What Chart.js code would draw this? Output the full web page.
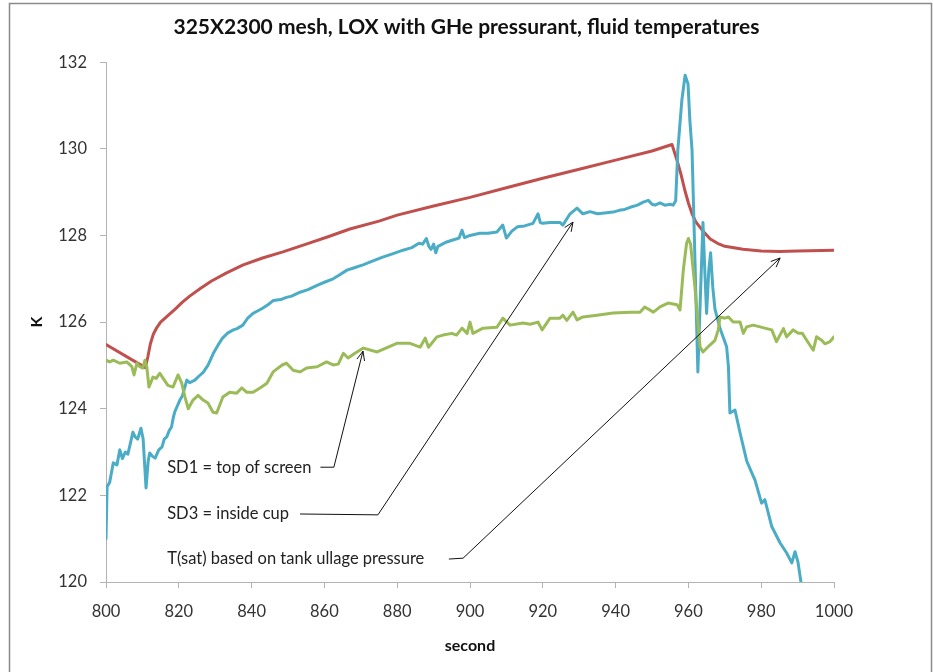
<!DOCTYPE html>
<html>
<head>
<meta charset="utf-8">
<script src="https://cdn.jsdelivr.net/npm/chart.js@4.4.0/dist/chart.umd.min.js"></script>
<style>
  html, body { margin: 0; padding: 0; background: #fff; }
</style>
</head>
<body>
<canvas id="chart" width="933" height="672"></canvas>
<script>
// T(sat) based on tank ullage pressure
const tsatX = [800, 810.8, 811.5, 812.2, 813, 814, 815, 817, 819, 821, 823, 826, 829, 833, 837.7, 843, 848.6, 855, 861, 867, 875, 880, 890, 900, 910, 920, 930, 940, 950, 955.5,
  957, 958, 959, 960, 961, 962, 964, 966, 968, 970, 975, 980, 985, 990, 1000];
const tsatY = [125.48, 124.95, 125.2, 125.5, 125.72, 125.88, 126.0, 126.15, 126.3, 126.46, 126.6, 126.78, 126.95, 127.13, 127.32, 127.48, 127.62, 127.8, 127.97, 128.15, 128.33, 128.47, 128.68, 128.88, 129.1, 129.32, 129.53, 129.74, 129.95, 130.1,
  129.7, 129.4, 129.05, 128.75, 128.5, 128.32, 128.1, 127.92, 127.82, 127.75, 127.68, 127.64, 127.63, 127.64, 127.66];

// SD3 = inside cup
const sd3X = [800, 800.3, 801, 802, 803, 803.8, 804.5, 805.3, 806, 806.7, 807.4, 808, 808.7, 809.6, 810.2, 811, 811.6, 812, 812.8, 813.5, 814.5, 815.4, 816, 816.7, 817.4, 818, 818.5, 818.9,
  820.3, 821, 822.2, 823, 824.4, 825.5, 826.7, 828, 829.5, 831, 832, 833.5, 835, 836, 837.6, 839, 840.4, 841.5, 843, 844.5, 846, 848, 849.6, 851, 853.3, 855.5, 858, 860, 862.4, 864, 866.2, 868,
  870.6, 873, 876, 878.5, 881.6, 884, 886, 887, 888, 888.7, 889.3, 890, 890.6, 891.2, 893.6, 895.5, 897, 897.8, 898.5, 900, 902.7, 905, 907.4, 909, 910, 911.5, 913, 915, 917.3, 918.7, 919.3,
  920, 922, 924.7, 925.5, 927.5, 929.4, 931, 933, 935, 937, 939.3, 941, 942.5, 944, 946, 947.6, 949, 950, 950.8, 952.2, 953.5, 955, 955.8, 956.5, 957.1, 958.2, 959.1, 959.9, 960.4, 961, 961.5,
  962.6, 963.3, 964, 964.5, 965, 965.6, 966.1, 966.7, 967.3, 968.7, 970.5, 971, 971.4, 972.8, 974.2, 976, 977, 978.3, 980.1, 981, 982.9, 985.2, 987, 988.4, 989.3, 990.1, 991.1, 992];
const sd3Y = [121.0, 122.2, 122.3, 122.75, 122.7, 123.05, 122.85, 123.0, 122.95, 123.2, 123.46, 123.35, 123.3, 123.55, 123.3, 122.17, 122.8, 122.98, 122.9, 122.86, 123.05, 123.12, 123.3, 123.35, 123.5, 123.58, 123.8, 123.93,
  124.2, 124.3, 124.66, 124.6, 124.66, 124.75, 124.84, 125.0, 125.28, 125.5, 125.63, 125.75, 125.82, 125.85, 125.93, 126.1, 126.2, 126.25, 126.32, 126.4, 126.5, 126.52, 126.57, 126.6, 126.69, 126.75, 126.85, 126.92, 127.0, 127.08, 127.2, 127.25,
  127.32, 127.4, 127.5, 127.57, 127.66, 127.72, 127.82, 127.8, 127.93, 127.75, 127.68, 127.8, 127.6, 127.75, 127.85, 127.9, 127.94, 128.12, 127.95, 128.0, 128.05, 128.05, 128.08, 128.24, 127.94, 128.1, 128.2, 128.22, 128.28, 128.5, 128.3,
  128.28, 128.3, 128.3, 128.24, 128.5, 128.63, 128.5, 128.55, 128.5, 128.52, 128.54, 128.58, 128.6, 128.65, 128.7, 128.77, 128.81, 128.72, 128.7, 128.75, 128.7, 128.72, 128.7, 128.8, 129.97, 131.12, 131.7, 131.5, 130.66, 129.97, 128.4,
  124.85, 126.6, 128.3, 127.2, 126.2, 127.2, 127.6, 126.8, 126.3, 125.85, 125.43, 124.97, 123.9, 123.97, 123.44, 122.8, 122.6, 122.35, 121.82, 121.9, 121.28, 120.9, 120.67, 120.44, 120.7, 120.46, 119.9, 119.5];

// SD1 = top of screen
const sd1X = [800, 801, 802, 803.8, 805.7, 807.1, 807.7, 808.5, 809.3, 810.1, 810.7, 811.2, 811.8, 812.9, 813.8, 814.8, 815.7, 817, 818.4, 819.8, 820.8, 821.7, 822.6, 823.9, 825.3, 826.7, 828, 829.4, 830.4,
  832.1, 834, 835.9, 837.3, 838.7, 840.4, 842.3, 844.2, 845.9, 848.4, 849.6, 851.4, 853.3, 855.1, 858, 860.6, 862.4, 863.8, 865.2, 866.5, 868.4, 870.7, 874.5, 879.9, 883.5, 886.3, 887.7, 888.6,
  890.9, 892.6, 895, 896.3, 897.8, 899.2, 900, 900.8, 903.6, 907.4, 909, 911, 914.6, 916.5, 918.7, 919.8, 922, 924.7, 925.5, 926.6, 928.3, 929.4, 931, 934.9, 939.3, 944, 946.7, 948, 950.4, 952.2,
  954.4, 956.9, 957.7, 958.6, 959.5, 960, 960.6, 961.8, 963.2, 964, 965.9, 967.3, 968.2, 968.7, 970, 971, 972.3, 974.2, 975.1, 976, 977.8, 979.7, 981.5, 982.9, 984.2, 986.1, 987, 988.8, 990.2,
  991.3, 992.5, 994.3, 995.2, 996.6, 997.5, 998.9, 1000];
const sd1Y = [125.12, 125.08, 125.12, 125.05, 125.08, 124.97, 124.78, 125.05, 124.97, 124.94, 125.12, 124.97, 124.5, 124.73, 124.7, 124.82, 124.7, 124.54, 124.5, 124.78, 124.59, 124.27, 124.0, 124.2, 124.31, 124.2, 124.13, 123.92, 123.9,
  124.27, 124.38, 124.36, 124.48, 124.38, 124.38, 124.48, 124.59, 124.85, 125.01, 125.05, 124.89, 124.85, 124.94, 124.97, 125.08, 125.01, 125.03, 125.28, 125.17, 125.28, 125.4, 125.31, 125.51, 125.51, 125.42, 125.63, 125.42,
  125.66, 125.7, 125.74, 125.7, 125.86, 125.74, 126.0, 125.74, 125.86, 125.88, 126.09, 125.93, 125.98, 125.95, 126.0, 125.82, 126.09, 126.09, 126.16, 126.04, 126.23, 126.05, 126.12, 126.16, 126.21, 126.23, 126.23, 126.35, 126.23, 126.35,
  126.44, 126.4, 126.28, 127.2, 127.82, 127.93, 127.8, 126.8, 125.43, 125.31, 125.47, 125.58, 125.82, 126.12, 126.09, 126.12, 126.0, 126.0, 125.74, 125.89, 125.93, 125.89, 125.85, 125.82, 125.55, 125.85, 125.66, 125.82, 125.74,
  125.74, 125.58, 125.35, 125.66, 125.58, 125.5, 125.55, 125.66];

const xTicks = [800, 820, 840, 860, 880, 900, 920, 940, 960, 980, 1000];
const yTicks = [120, 122, 124, 126, 128, 130, 132];

// callout labels, anchored in data units: text start, line start, elbow, arrow tip
const callouts = [
  { text: 'SD1 = top of screen', tx: 816.8, ty: 122.65, sx: 858.9, ex: 862.6, ey: 122.65, px: 870.6, py: 125.33 },
  { text: 'SD3 = inside cup', tx: 816.8, ty: 121.57, sx: 853.3, ex: 874.7, ey: 121.55, px: 928.3, py: 128.31 },
  { text: 'T(sat) based on tank ullage pressure', tx: 816.8, ty: 120.53, sx: 894.2, ex: 898.1, ey: 120.55, px: 985.2, py: 127.48 }
];

const FONT = 'Lato, "Open Sans", sans-serif';

function pts(xs, ys) {
  return xs.map((x, i) => ({ x: x, y: ys[i] }));
}

const framePlugin = {
  id: 'frame',
  beforeDraw(chart) {
    const ctx = chart.ctx;
    ctx.save();
    ctx.fillStyle = '#fff';
    ctx.fillRect(0, 0, chart.width, chart.height);
    ctx.strokeStyle = '#8a8a8a';
    ctx.lineWidth = 1.5;
    ctx.strokeRect(9.5, 3.5, chart.width - 11, chart.height + 10);
    ctx.restore();
  }
};

const calloutPlugin = {
  id: 'callouts',
  afterDraw(chart) {
    const ctx = chart.ctx;
    const xs = chart.scales.x, ys = chart.scales.y;
    ctx.save();
    ctx.font = '16.5px ' + FONT;
    ctx.fillStyle = '#222';
    ctx.textBaseline = 'middle';
    ctx.strokeStyle = '#111';
    ctx.lineWidth = 1;
    callouts.forEach(c => {
      ctx.fillText(c.text, xs.getPixelForValue(c.tx), ys.getPixelForValue(c.ty));
      const sx = xs.getPixelForValue(c.sx), sy = ys.getPixelForValue(c.ty);
      const ex = xs.getPixelForValue(c.ex), ey = ys.getPixelForValue(c.ey);
      const px = xs.getPixelForValue(c.px), py = ys.getPixelForValue(c.py);
      ctx.beginPath();
      ctx.moveTo(sx, sy);
      ctx.lineTo(ex, ey);
      ctx.lineTo(px, py);
      ctx.stroke();
      const ang = Math.atan2(py - ey, px - ex);
      const len = 10, spread = 0.4;
      ctx.beginPath();
      ctx.moveTo(px - len * Math.cos(ang - spread), py - len * Math.sin(ang - spread));
      ctx.lineTo(px, py);
      ctx.lineTo(px - len * Math.cos(ang + spread), py - len * Math.sin(ang + spread));
      ctx.stroke();
    });
    ctx.restore();
  }
};

function series(label, xs, ys, color) {
  return {
    label: label,
    data: pts(xs, ys),
    borderColor: color,
    backgroundColor: color,
    borderWidth: 3,
    pointRadius: 0,
    tension: 0,
    borderJoinStyle: 'round',
    borderCapStyle: 'round'
  };
}

const tickFont = { family: FONT, size: 16.5 };
const axisColor = '#b3b3b3';

const ctx = document.getElementById('chart').getContext('2d');
new Chart(ctx, {
  type: 'line',
  data: {
    datasets: [
      series('SD1', sd1X, sd1Y, '#9bbb59'),
      series('SD3', sd3X, sd3Y, '#4bacc6'),
      series('T(sat)', tsatX, tsatY, '#c0504d')
    ]
  },
  options: {
    responsive: false,
    animation: false,
    layout: { padding: 0 },
    plugins: {
      legend: { display: false },
      tooltip: { enabled: false },
      title: {
        display: true,
        text: '325X2300 mesh, LOX with GHe pressurant, fluid temperatures',
        color: '#111',
        font: { family: FONT, size: 21, weight: 'bold' },
        padding: { top: 15, bottom: 22 }
      }
    },
    scales: {
      x: {
        type: 'linear',
        min: 800,
        max: 1000,
        afterBuildTicks: s => { s.ticks = xTicks.map(v => ({ value: v })); },
        afterFit: s => { s.height = 90; },
        ticks: { color: '#333', font: tickFont, padding: 14, maxRotation: 0, callback: v => String(v) },
        grid: { display: true, drawOnChartArea: false, drawTicks: true, tickLength: 6, color: axisColor },
        border: { display: true, color: axisColor },
        title: { display: true, text: 'second', color: '#111', font: { family: FONT, size: 16, weight: 'bold' }, padding: { top: 0, bottom: 17 } }
      },
      y: {
        min: 120,
        max: 132,
        afterBuildTicks: s => { s.ticks = yTicks.map(v => ({ value: v })); },
        afterFit: s => { s.width = 106; },
        ticks: { color: '#333', font: tickFont, padding: 13 },
        grid: { display: true, drawOnChartArea: false, drawTicks: true, tickLength: 6, color: axisColor },
        border: { display: true, color: axisColor },
        title: { display: true, text: 'K', color: '#111', font: { family: FONT, size: 16, weight: 'bold' }, padding: { top: 27, bottom: 0 } }
      },
      // empty right-hand gutter so the title centres on the whole canvas
      gutter: {
        type: 'linear',
        position: 'right',
        display: true,
        afterFit: s => { s.width = 99; },
        ticks: { display: false },
        grid: { display: false },
        border: { display: false }
      }
    }
  },
  plugins: [framePlugin, calloutPlugin]
});
</script>
</body>
</html>
